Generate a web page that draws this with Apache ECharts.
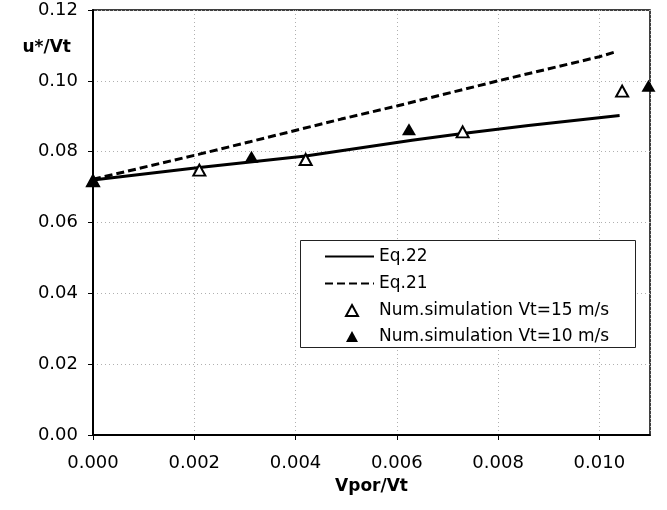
<!DOCTYPE html>
<html><head><meta charset="utf-8">
<script src="https://cdn.jsdelivr.net/npm/echarts@6/dist/echarts.min.js"></script>
<style>html,body{margin:0;padding:0;background:#fff}#c{width:667px;height:510px}</style>
</head><body><div id="c"></div>
<script>
// Eq.22 (solid line)
const eq22X = [0, 0.0021, 0.0042, 0.0063, 0.0073, 0.0086, 0.0104];
const eq22Y = [0.0720, 0.0755, 0.0788, 0.0832, 0.0851, 0.0874, 0.0902];
// Eq.21 (dashed line)
const eq21X = [0, 0.0021, 0.0031, 0.0049, 0.0060, 0.0080, 0.0100, 0.0103];
const eq21Y = [0.0722, 0.0793, 0.0828, 0.0892, 0.0929, 0.1000, 0.1068, 0.1081];
// Num.simulation Vt=15 m/s (open triangles)
const sim15X = [0, 0.0021, 0.0042, 0.0073, 0.01045];
const sim15Y = [0.0718, 0.0748, 0.0778, 0.0856, 0.0971];
// Num.simulation Vt=10 m/s (filled triangles)
const sim10X = [0, 0.00313, 0.00624, 0.01097];
const sim10Y = [0.0717, 0.0786, 0.0863, 0.0986];

const seriesNames = ['Eq.22', 'Eq.21', 'Num.simulation Vt=15 m/s', 'Num.simulation Vt=10 m/s'];
const xAxisTitle = 'Vpor/Vt';
const yAxisTitle = 'u*/Vt';

const zip = (xs, ys) => xs.map((x, i) => [x, ys[i]]);
const FONT = 'DejaVu Sans';
const legendText = {fontFamily: FONT, fontSize: 17, color: '#000', lineHeight: 16};

const chart = echarts.init(document.getElementById('c'), null, {renderer: 'canvas'});
chart.setOption({
  backgroundColor: '#fff',
  animation: false,
  grid: {left: 93, right: 17, top: 10, bottom: 75, show: true, borderColor: '#000', borderWidth: 1.5, backgroundColor: 'transparent'},
  xAxis: {
    type: 'value', min: 0, max: 0.011, interval: 0.002,
    name: xAxisTitle, nameLocation: 'middle', nameGap: 43,
    nameTextStyle: {fontFamily: FONT, fontWeight: 'bold', fontSize: 17, color: '#000'},
    axisLine: {show: true, onZero: false, lineStyle: {color: '#000', width: 2}},
    axisTick: {show: true, length: 5, lineStyle: {color: '#000', width: 1}},
    axisLabel: {margin: 19, showMaxLabel: false, fontFamily: FONT, fontSize: 18, color: '#000', formatter: v => v.toFixed(3)},
    splitLine: {show: true, lineStyle: {color: '#b0b0b0', type: [1, 3], width: 1}}
  },
  yAxis: {
    type: 'value', min: 0, max: 0.12, interval: 0.02,
    name: yAxisTitle, nameLocation: 'end', nameGap: -38,
    nameTextStyle: {fontFamily: FONT, fontWeight: 'bold', fontSize: 17, color: '#000', align: 'right', verticalAlign: 'middle', padding: [0, 22, 0, 0]},
    axisLine: {show: true, lineStyle: {color: '#000', width: 2}},
    axisTick: {show: true, length: 5, lineStyle: {color: '#000', width: 1}},
    axisLabel: {margin: 15, fontFamily: FONT, fontSize: 18, color: '#000', formatter: v => v.toFixed(2)},
    splitLine: {show: true, lineStyle: {color: '#b0b0b0', type: [1, 3], width: 1}}
  },
  graphic: [{
    type: 'rect', z: 3, silent: true,
    shape: {x: 300.5, y: 240.5, width: 335, height: 107},
    style: {fill: '#fff', stroke: '#222', lineWidth: 1}
  }],
  legend: [{
    data: [
      {name: seriesNames[0], itemStyle: {opacity: 0}},
      {name: seriesNames[1], itemStyle: {opacity: 0}}
    ],
    orient: 'vertical', left: 324, top: 248, padding: 0, z: 5,
    itemWidth: 49, itemHeight: 11, itemGap: 10,
    textStyle: legendText
  }, {
    data: [seriesNames[2], seriesNames[3]],
    orient: 'vertical', left: 345, top: 302, padding: 0, z: 5,
    itemWidth: 12, itemHeight: 11, itemGap: 9,
    textStyle: Object.assign({padding: [0, 0, 0, 16]}, legendText)
  }],
  series: [
    {name: seriesNames[0], type: 'line', data: zip(eq22X, eq22Y), symbol: 'none', z: 3,
     lineStyle: {color: '#000', width: 3}, itemStyle: {color: '#000'}},
    {name: seriesNames[1], type: 'line', data: zip(eq21X, eq21Y), symbol: 'none', z: 3,
     lineStyle: {color: '#000', width: 3, type: [8, 4]}, itemStyle: {color: '#000'}},
    {name: seriesNames[2], type: 'scatter', data: zip(sim15X, sim15Y), symbol: 'triangle', symbolSize: [12, 11], clip: false, z: 4,
     itemStyle: {color: '#fff', borderColor: '#000', borderWidth: 2, opacity: 1}},
    {name: seriesNames[3], type: 'scatter', data: zip(sim10X, sim10Y), symbol: 'triangle', symbolSize: [14, 12], clip: false, z: 5,
     itemStyle: {color: '#000', opacity: 1}}
  ]
});
</script>
</body></html>
